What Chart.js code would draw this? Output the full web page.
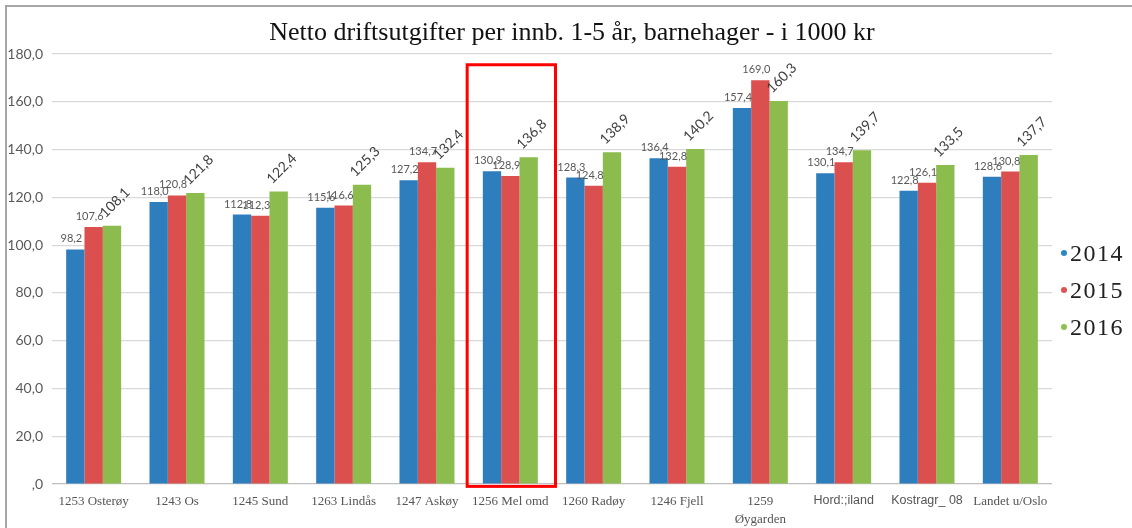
<!DOCTYPE html>
<html>
<head>
<meta charset="utf-8">
<script src="https://cdn.jsdelivr.net/npm/chart.js@4/dist/chart.umd.min.js"></script>
<style>
  html, body { margin: 0; padding: 0; background: #fff; overflow: hidden; }
  #wrap { position: relative; width: 1132px; height: 528px; overflow: hidden; }
  canvas { display: block; }
  .rule { position: absolute; background: #a6a6a6; pointer-events: none; }
  #ruleTop { left: 5px; top: 5px; width: 1127px; height: 2px; }
  #ruleLeft { left: 5px; top: 5px; width: 2px; height: 523px; }
  #title { position: absolute; left: 0; width: 1144px; top: 17px; text-align: center;
           font-family: 'Liberation Serif', serif; font-size: 26px; color: #111; white-space: nowrap; }
  #legend { position: absolute; left: 1061px; top: 235px; font-family: 'Liberation Serif', serif;
            font-size: 24px; letter-spacing: 1.5px; color: #222; }
  #legend div { height: 37px; line-height: 37px; white-space: nowrap; }
  #legend span { display: inline-block; width: 6px; height: 6px; border-radius: 50%;
                 margin-right: 3px; vertical-align: middle; position: relative; top: -2px; }
</style>
</head>
<body>
<div id="wrap">
  <canvas id="chart" width="1132" height="528"></canvas>
  <div class="rule" id="ruleTop"></div>
  <div class="rule" id="ruleLeft"></div>
  <div id="title">Netto driftsutgifter per innb. 1-5 år, barnehager - i 1000 kr</div>
  <div id="legend"></div>
</div>
<script>
/* ===== Data ===== */
const categories = ['1253 Osterøy', '1243 Os', '1245 Sund', '1263 Lindås', '1247 Askøy', '1256 Mel omd',
  '1260 Radøy', '1246 Fjell', ['1259', 'Øygarden'], 'Hord:;iland', 'Kostragr_ 08', 'Landet u/Oslo'];
const seriesNames = ['2014', '2015', '2016'];
const values2014 = [98.2, 118.0, 112.8, 115.6, 127.2, 130.9, 128.3, 136.4, 157.4, 130.1, 122.8, 128.6];
const values2015 = [107.6, 120.8, 112.3, 116.6, 134.7, 128.9, 124.8, 132.8, 169.0, 134.7, 126.1, 130.8];
const values2016 = [108.1, 121.8, 122.4, 125.3, 132.4, 136.8, 138.9, 140.2, 160.3, 139.7, 133.5, 137.7];
const yTicks = [0, 20, 40, 60, 80, 100, 120, 140, 160, 180];
const highlightIndex = 5;
const sansLabels = [9, 10];

const colors = ['#2e7ebd', '#dc4f4f', '#8cbb4e'];
const legendColors = ['#2a86c8', '#e05353', '#8ec14f'];

function fmt(v) {
  return v === 0 ? ',0' : v.toFixed(1).replace('.', ',');
}

// data labels: 2014/2015 flat, 2016 rotated
const barLabels = {
  id: 'barLabels',
  afterDatasetsDraw(chart) {
    const ctx = chart.ctx;
    chart.data.datasets.forEach((ds, di) => {
      const meta = chart.getDatasetMeta(di);
      meta.data.forEach((bar, i) => {
        const text = fmt(ds.data[i]);
        ctx.save();
        if (di < 2) {
          ctx.font = '11px Lato';
          ctx.fillStyle = '#595959';
          ctx.textAlign = 'center';
          ctx.textBaseline = 'bottom';
          ctx.fillText(text, bar.x - 4, bar.y - 5);
        } else {
          ctx.font = '14px Lato';
          ctx.fillStyle = '#404040';
          ctx.textAlign = 'center';
          ctx.textBaseline = 'middle';
          ctx.translate(bar.x + 3, bar.y - 23);
          ctx.rotate(-Math.PI / 4);
          ctx.fillText(text, 0, 0);
        }
        ctx.restore();
      });
    });
  }
};

// red box round the highlighted municipality
const highlightBox = {
  id: 'highlightBox',
  afterDatasetsDraw(chart) {
    const x = chart.scales.x, y = chart.scales.y;
    const half = (x.getPixelForValue(1) - x.getPixelForValue(0)) * 0.53;
    const cx = x.getPixelForValue(highlightIndex) + 1;
    const top = y.getPixelForValue(175.5);
    const bottom = y.getPixelForValue(-1);
    const ctx = chart.ctx;
    ctx.save();
    ctx.strokeStyle = '#ff0000';
    ctx.lineWidth = 3;
    ctx.strokeRect(cx - half, top, half * 2, bottom - top);
    ctx.restore();
  }
};

const allValues = [values2014, values2015, values2016];

new Chart(document.getElementById('chart'), {
  type: 'bar',
  data: {
    labels: categories,
    datasets: seriesNames.map((name, i) => ({
      label: name,
      data: allValues[i],
      backgroundColor: colors[i],
      borderWidth: 0,
      barPercentage: 1,
      categoryPercentage: 0.66
    }))
  },
  options: {
    responsive: false,
    animation: false,
    layout: { padding: { top: 54, left: 5, right: 80, bottom: 0 } },
    plugins: {
      legend: { display: false },
      tooltip: { enabled: false }
    },
    scales: {
      x: {
        afterFit: s => { s.height = 44; },
        grid: { display: false, drawTicks: false },
        border: { display: false },
        ticks: {
          padding: 8,
          maxRotation: 0,
          autoSkip: false,
          color: '#555',
          font: ctx => sansLabels.includes(ctx.index)
            ? { family: 'Liberation Sans', size: 12.5, lineHeight: 1.4 }
            : { family: 'Liberation Serif', size: 13, lineHeight: 1.4 }
        }
      },
      y: {
        min: 0,
        max: 180,
        afterFit: s => { s.width = 47; },
        afterBuildTicks: s => { s.ticks = yTicks.map(v => ({ value: v })); },
        grid: { color: ctx => ctx.tick && ctx.tick.value === 0 ? '#bfbfbf' : '#d9d9d9', lineWidth: 1.2, drawTicks: false },
        border: { display: false },
        ticks: {
          padding: 9,
          color: '#595959',
          font: { family: 'Lato', size: 14 },
          callback: v => fmt(v)
        }
      }
    }
  },
  plugins: [barLabels, highlightBox]
});

// legend
document.getElementById('legend').innerHTML = seriesNames.map((n, i) =>
  `<div><span style="background:${legendColors[i]}"></span>${n}</div>`).join('');
</script>
</body>
</html>
